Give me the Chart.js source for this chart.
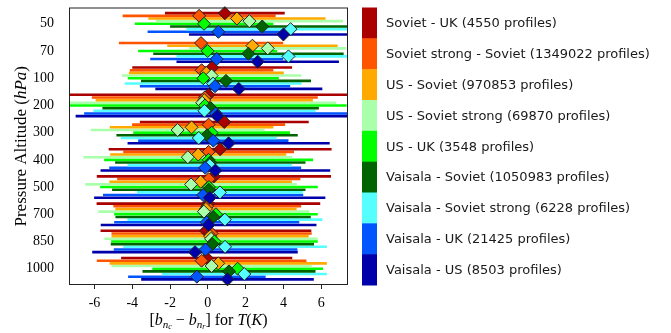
<!DOCTYPE html>
<html>
<head>
<meta charset="utf-8">
<script src="https://cdn.jsdelivr.net/npm/chart.js@4.4.0/dist/chart.umd.min.js"></script>
<style>body{margin:0;background:#fff}</style>
</head>
<body>
<canvas id="chart" width="671" height="333"></canvas>
<script>
var levels = [50, 70, 100, 200, 300, 400, 500, 700, 850, 1000]

var seriesNames = [
    'Soviet - UK (4550 profiles)',
    'Soviet strong - Soviet (1349022 profiles)',
    'US - Soviet (970853 profiles)',
    'US - Soviet strong (69870 profiles)',
    'US - UK (3548 profiles)',
    'Vaisala - Soviet (1050983 profiles)',
    'Vaisala - Soviet strong (6228 profiles)',
    'Vaisala - UK (21425 profiles)',
    'Vaisala - US (8503 profiles)'
]
var seriesColors = ['#aa0000', '#ff5500', '#ffaa00', '#aaffaa', '#00ff00', '#006400', '#55ffff', '#0055ff', '#0000aa']

// mean bias and spread (K) per pressure level, top (50 hPa) to bottom (1000 hPa)
var sovietUkMean = [0.9, null, 0.23, 0.03, 0.87, 0.65, 0.32, 0.03, -0.1, -0.06]
var sovietUkStd = [3.17, null, 4.23, 8.0, 4.47, 5.9, 6.2, 5.92, 5.58, 4.53]
var sovStrongSovMean = [-0.46, -0.36, -0.33, -0.16, 0.04, 0.04, 0.05, -0.03, 0.2, -0.33]
var sovStrongSovStd = [4.05, 4.35, 3.8, 5.98, 4.05, 4.52, 4.85, 4.97, 5.3, 5.55]
var usSovMean = [1.54, 2.36, -0.08, -0.19, -0.86, -0.51, -0.38, -0.1, 0.12, 0.55]
var usSovStd = [4.69, 4.51, 4.1, 5.75, 4.33, 4.66, 4.83, 4.8, 5.22, 5.75]
var usSovStrongMean = [2.2, 3.17, 0.2, -0.3, -1.6, -1.06, -0.89, -0.21, 0.17, 0.2]
var usSovStrongStd = [4.95, 4.16, 4.75, 7.1, 4.6, 5.53, 5.6, 5.59, 5.65, 5.3]
var usUkMean = [-0.2, -0.01, -0.24, -0.15, 0.2, 0.04, 0.06, 0.43, 0.35, 1.58]
var usUkStd = [3.67, 3.68, 4.0, 7.5, 4.15, 5.53, 5.76, 5.39, 5.47, 4.52]
var vaiSovMean = [2.88, 2.15, 0.96, 0.15, -0.04, 0.13, 0.05, 0.28, 0.24, 1.12]
var vaiSovStd = [4.88, 5.04, 4.5, 5.73, 4.8, 5.04, 5.12, 5.17, 5.38, 4.58]
var vaiSovStrongMean = [4.38, 4.27, 0.28, -0.18, -0.48, 0.1, 0.64, 0.9, 0.91, 1.93]
var vaiSovStrongStd = [5.52, 5.93, 4.68, 5.88, 4.13, 4.35, 4.39, 5.16, 5.39, 4.37]
var vaiUkMean = [0.56, 0.47, 0.38, 0.42, 0.29, -0.14, -0.25, -0.06, -0.12, -0.58]
var vaiUkStd = [3.75, 3.52, 3.98, 6.97, 3.98, 5.08, 5.3, 4.9, 4.86, 3.64]
var vaiUsMean = [4.0, 2.64, 1.64, 0.5, 1.1, 0.4, 0.1, 0.04, -0.68, 1.04]
var vaiUsStd = [5.0, 4.3, 4.42, 7.5, 5.35, 6.08, 6.12, 5.71, 5.44, 4.57]

var allMeans = [sovietUkMean, sovStrongSovMean, usSovMean, usSovStrongMean, usUkMean, vaiSovMean, vaiSovStrongMean, vaiUkMean, vaiUsMean]
var allStds = [sovietUkStd, sovStrongSovStd, usSovStd, usSovStrongStd, usUkStd, vaiSovStd, vaiSovStrongStd, vaiUkStd, vaiUsStd]

// vertical shift of each series inside a pressure level
var rowStep = 0.098

function rowY(i, j) {
    return i + (j - 4) * rowStep
}

function barPoints(mean, std, j) {
    var pts = []
    for (var i = 0; i < levels.length; i++) {
        if (mean[i] === null) continue
        pts.push({x: mean[i] - std[i], y: rowY(i, j)})
        pts.push({x: mean[i] + std[i], y: rowY(i, j)})
        pts.push({x: null, y: null})
    }
    return pts
}

function markerPoints(mean, j) {
    var pts = []
    for (var i = 0; i < levels.length; i++) {
        if (mean[i] === null) continue
        pts.push({x: mean[i], y: rowY(i, j)})
    }
    return pts
}

var datasets = []
seriesNames.forEach((name, j) => {
    datasets.push({
        label: name,
        data: barPoints(allMeans[j], allStds[j], j),
        showLine: true,
        borderColor: seriesColors[j],
        borderWidth: 2.6,
        borderCapStyle: 'butt',
        pointRadius: 0,
        spanGaps: false,
        clip: 0,
        order: 100 + j
    })
})
seriesNames.forEach((name, j) => {
    datasets.push({
        label: name + ' mean',
        data: markerPoints(allMeans[j], j),
        showLine: false,
        pointStyle: 'rectRot',
        pointRadius: 6.5,
        pointBorderWidth: 1,
        pointBorderColor: '#222',
        pointBackgroundColor: seriesColors[j],
        clip: false,
        order: 50 - j
    })
})

function drawRuns(ctx, runs, x, y) {
    var total = 0
    runs.forEach((r) => {
        ctx.font = r[1]
        total += ctx.measureText(r[0]).width
    })
    var cx = x - total / 2
    runs.forEach((r) => {
        ctx.font = r[1]
        ctx.fillText(r[0], cx, y + (r[2] || 0))
        cx += ctx.measureText(r[0]).width
    })
}

var serif = "'Liberation Serif', serif"
var rm = '16px ' + serif
var it = 'italic 16px ' + serif
var sub = 'italic 11px ' + serif
var sub2 = 'italic 8px ' + serif

var decorPlugin = {
    id: 'decor',
    afterDatasetsDraw: function (chart) {
        var ctx = chart.ctx
        var area = chart.chartArea
        ctx.save()
        ctx.strokeStyle = '#222'
        ctx.lineWidth = 1
        ctx.strokeRect(area.left + 0.5, area.top + 0.5, area.right - area.left - 1, area.bottom - area.top - 1)
        ctx.restore()
    },
    afterDraw: function (chart) {
        var ctx = chart.ctx
        var area = chart.chartArea
        ctx.save()
        ctx.fillStyle = '#000'
        ctx.textBaseline = 'middle'
        ctx.textAlign = 'left'

        // x axis title
        drawRuns(ctx, [
            ['[', rm], ['b', it], ['n', sub, 4], ['c', sub2, 6], [' \u2212 ', rm],
            ['b', it], ['n', sub, 4], ['r', sub2, 6], ['] for ', rm],
            ['T', it], ['(', rm], ['K', it], [')', rm]
        ], (area.left + area.right) / 2, 321)

        // y axis title
        ctx.save()
        ctx.translate(22, (area.top + area.bottom) / 2)
        ctx.rotate(-Math.PI / 2)
        drawRuns(ctx, [['Pressure Altitude (', '17px ' + serif], ['hPa', 'italic 17px ' + serif], [')', '17px ' + serif]], 0, 0)
        ctx.restore()

        // colour bar legend
        var h = (area.bottom - area.top) / seriesNames.length
        var bx = area.right + 14
        ctx.font = "13px 'DejaVu Sans', sans-serif"
        seriesNames.forEach((name, j) => {
            ctx.fillStyle = seriesColors[j]
            ctx.fillRect(bx, area.top + j * h, 15, h + 0.5)
            ctx.fillStyle = '#1a1a1a'
            ctx.fillText(name, bx + 24, area.top + (j + 0.5) * h + 1)
        })
        ctx.restore()
    }
}

var ctx = document.getElementById('chart').getContext('2d')
var biasChart = new Chart(ctx, {
    type: 'scatter',
    data: {datasets: datasets},
    options: {
        responsive: false,
        animation: false,
        layout: {padding: {top: 5, right: 323, left: 0, bottom: 0}},
        plugins: {legend: {display: false}, tooltip: {enabled: false}},
        scales: {
            x: {
                type: 'linear',
                min: -7.35,
                max: 7.42,
                afterFit: (s) => { s.height = 48; s.paddingLeft = 0; s.paddingRight = 0 },
                ticks: {stepSize: 2, includeBounds: false, color: '#000', padding: 6,
                    font: {family: serif, size: 14}},
                grid: {drawOnChartArea: false, tickLength: 4, color: '#222'},
                border: {display: false}
            },
            y: {
                type: 'linear',
                reverse: true,
                min: -0.6,
                max: 9.6,
                afterFit: (s) => { s.width = 69; s.paddingTop = 0; s.paddingBottom = 0 },
                ticks: {stepSize: 1, includeBounds: false, color: '#000', padding: 7,
                    font: {family: serif, size: 14},
                    callback: (v) => levels[v]},
                grid: {display: false},
                border: {display: false}
            }
        }
    },
    plugins: [decorPlugin]
})
</script>
</body>
</html>
